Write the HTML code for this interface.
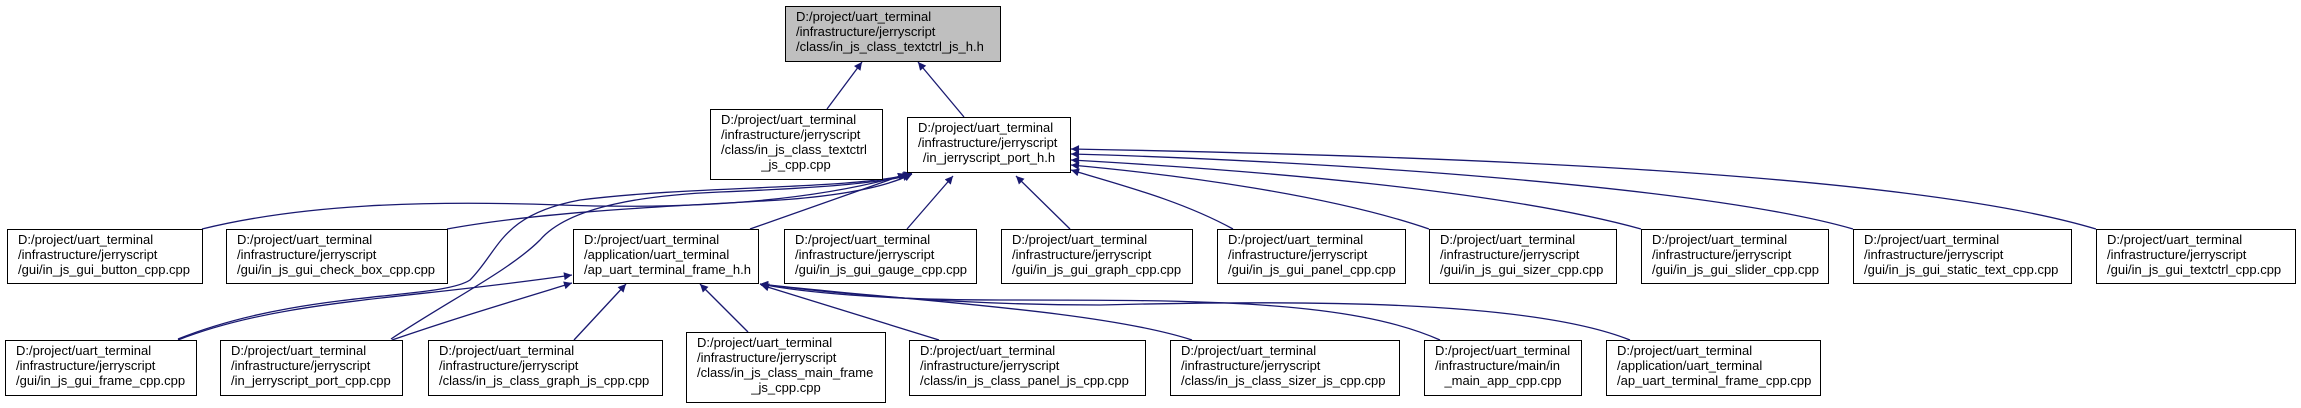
<!DOCTYPE html>
<html><head><meta charset="utf-8"><style>
html,body{margin:0;padding:0;background:#fff;}
body{width:2301px;height:408px;overflow:hidden;position:relative;font-family:"Liberation Sans",Arial,sans-serif;}
svg{position:absolute;left:0;top:0;}
text{font-family:"Liberation Sans",Arial,sans-serif;font-size:13px;fill:#000;}
</style></head><body>
<svg width="2301" height="408" viewBox="0 0 2301 408">
<defs>
<marker id="a" viewBox="0 0 10 10" refX="10" refY="5" markerWidth="11" markerHeight="8" markerUnits="userSpaceOnUse" orient="auto">
<path d="M0,0 L10,5 L0,10 z" fill="#191970"/></marker>
</defs>
<g fill="none" stroke="#191970" stroke-width="1.3" marker-end="url(#a)">
<!-- to top -->
<path d="M827,109 L862,62"/>
<path d="M964,117 L918,62"/>
<!-- to port_h -->
<path d="M202,229 C300,205 420,200 560,205 C700,210 820,200 912,173"/>
<path d="M447,229 C550,210 700,205 780,200 C850,195 890,185 912,174"/>
<path d="M178,339 C300,290 440,300 470,280 C500,250 500,215 580,200 C700,185 850,190 911,174"/>
<path d="M391,339 C450,300 510,270 540,240 C570,205 650,195 720,192 C820,188 880,183 911,175"/>
<path d="M750,229 L906,174"/>
<path d="M907,229 L953,176"/>
<path d="M1070,229 L1016,176"/>
<path d="M1233,229 C1180,200 1120,185 1071,170"/>
<path d="M1429,229 C1330,195 1180,175 1071,165"/>
<path d="M1641,229 C1500,190 1250,170 1071,160"/>
<path d="M1853,229 C1700,185 1300,160 1071,154"/>
<path d="M2096,229 C1900,170 1400,155 1071,149"/>
<!-- to frame_h -->
<path d="M178,340 C280,300 400,300 572,275"/>
<path d="M392,340 C450,320 500,305 572,283"/>
<path d="M574,340 L626,284"/>
<path d="M748,332 L700,284"/>
<path d="M939,340 L761,285"/>
<path d="M1192,340 C1100,310 900,300 760,284"/>
<path d="M1440,340 C1350,300 1200,300 1000,300 C880,300 800,292 760,284"/>
<path d="M1630,340 C1530,300 1300,300 1100,305 C950,305 820,292 760,284"/>
</g>
<g stroke="#000" stroke-width="1">
<rect x="785.5" y="6.5" width="215" height="55" fill="#bfbfbf"/>
<rect x="710.5" y="109.5" width="172" height="70" fill="#fff"/>
<rect x="907.5" y="117.5" width="163" height="55" fill="#fff"/>
<rect x="7.5" y="229.5" width="195" height="54" fill="#fff"/>
<rect x="226.5" y="229.5" width="221" height="54" fill="#fff"/>
<rect x="573.5" y="229.5" width="185" height="54" fill="#fff"/>
<rect x="784.5" y="229.5" width="192" height="54" fill="#fff"/>
<rect x="1001.5" y="229.5" width="191" height="54" fill="#fff"/>
<rect x="1217.5" y="229.5" width="188" height="54" fill="#fff"/>
<rect x="1429.5" y="229.5" width="187" height="54" fill="#fff"/>
<rect x="1641.5" y="229.5" width="187" height="54" fill="#fff"/>
<rect x="1853.5" y="229.5" width="218" height="54" fill="#fff"/>
<rect x="2096.5" y="229.5" width="199" height="54" fill="#fff"/>
<rect x="5.5" y="340.5" width="191" height="55" fill="#fff"/>
<rect x="220.5" y="340.5" width="182" height="55" fill="#fff"/>
<rect x="428.5" y="340.5" width="234" height="55" fill="#fff"/>
<rect x="686.5" y="332.5" width="199" height="70" fill="#fff"/>
<rect x="909.5" y="340.5" width="236" height="55" fill="#fff"/>
<rect x="1170.5" y="340.5" width="229" height="55" fill="#fff"/>
<rect x="1424.5" y="340.5" width="157" height="55" fill="#fff"/>
<rect x="1606.5" y="340.5" width="214" height="55" fill="#fff"/>
</g>
<g>
<text x="796" y="21">D:/project/uart_terminal</text><text x="796" y="36">/infrastructure/jerryscript</text><text x="796" y="51">/class/in_js_class_textctrl_js_h.h</text>
<text x="721" y="124">D:/project/uart_terminal</text><text x="721" y="139">/infrastructure/jerryscript</text><text x="721" y="154">/class/in_js_class_textctrl</text><text x="796" y="169" text-anchor="middle">_js_cpp.cpp</text>
<text x="918" y="132">D:/project/uart_terminal</text><text x="918" y="147">/infrastructure/jerryscript</text><text x="989" y="162" text-anchor="middle">/in_jerryscript_port_h.h</text>
<text x="18" y="244">D:/project/uart_terminal</text><text x="18" y="259">/infrastructure/jerryscript</text><text x="18" y="274">/gui/in_js_gui_button_cpp.cpp</text>
<text x="237" y="244">D:/project/uart_terminal</text><text x="237" y="259">/infrastructure/jerryscript</text><text x="237" y="274">/gui/in_js_gui_check_box_cpp.cpp</text>
<text x="584" y="244">D:/project/uart_terminal</text><text x="584" y="259">/application/uart_terminal</text><text x="584" y="274">/ap_uart_terminal_frame_h.h</text>
<text x="795" y="244">D:/project/uart_terminal</text><text x="795" y="259">/infrastructure/jerryscript</text><text x="795" y="274">/gui/in_js_gui_gauge_cpp.cpp</text>
<text x="1012" y="244">D:/project/uart_terminal</text><text x="1012" y="259">/infrastructure/jerryscript</text><text x="1012" y="274">/gui/in_js_gui_graph_cpp.cpp</text>
<text x="1228" y="244">D:/project/uart_terminal</text><text x="1228" y="259">/infrastructure/jerryscript</text><text x="1228" y="274">/gui/in_js_gui_panel_cpp.cpp</text>
<text x="1440" y="244">D:/project/uart_terminal</text><text x="1440" y="259">/infrastructure/jerryscript</text><text x="1440" y="274">/gui/in_js_gui_sizer_cpp.cpp</text>
<text x="1652" y="244">D:/project/uart_terminal</text><text x="1652" y="259">/infrastructure/jerryscript</text><text x="1652" y="274">/gui/in_js_gui_slider_cpp.cpp</text>
<text x="1864" y="244">D:/project/uart_terminal</text><text x="1864" y="259">/infrastructure/jerryscript</text><text x="1864" y="274">/gui/in_js_gui_static_text_cpp.cpp</text>
<text x="2107" y="244">D:/project/uart_terminal</text><text x="2107" y="259">/infrastructure/jerryscript</text><text x="2107" y="274">/gui/in_js_gui_textctrl_cpp.cpp</text>
<text x="16" y="355">D:/project/uart_terminal</text><text x="16" y="370">/infrastructure/jerryscript</text><text x="16" y="385">/gui/in_js_gui_frame_cpp.cpp</text>
<text x="231" y="355">D:/project/uart_terminal</text><text x="231" y="370">/infrastructure/jerryscript</text><text x="231" y="385">/in_jerryscript_port_cpp.cpp</text>
<text x="439" y="355">D:/project/uart_terminal</text><text x="439" y="370">/infrastructure/jerryscript</text><text x="439" y="385">/class/in_js_class_graph_js_cpp.cpp</text>
<text x="697" y="347">D:/project/uart_terminal</text><text x="697" y="362">/infrastructure/jerryscript</text><text x="697" y="377">/class/in_js_class_main_frame</text><text x="786" y="392" text-anchor="middle">_js_cpp.cpp</text>
<text x="920" y="355">D:/project/uart_terminal</text><text x="920" y="370">/infrastructure/jerryscript</text><text x="920" y="385">/class/in_js_class_panel_js_cpp.cpp</text>
<text x="1181" y="355">D:/project/uart_terminal</text><text x="1181" y="370">/infrastructure/jerryscript</text><text x="1181" y="385">/class/in_js_class_sizer_js_cpp.cpp</text>
<text x="1435" y="355">D:/project/uart_terminal</text><text x="1435" y="370">/infrastructure/main/in</text><text x="1503" y="385" text-anchor="middle">_main_app_cpp.cpp</text>
<text x="1617" y="355">D:/project/uart_terminal</text><text x="1617" y="370">/application/uart_terminal</text><text x="1617" y="385">/ap_uart_terminal_frame_cpp.cpp</text>
</g>
</svg>
</body></html>
